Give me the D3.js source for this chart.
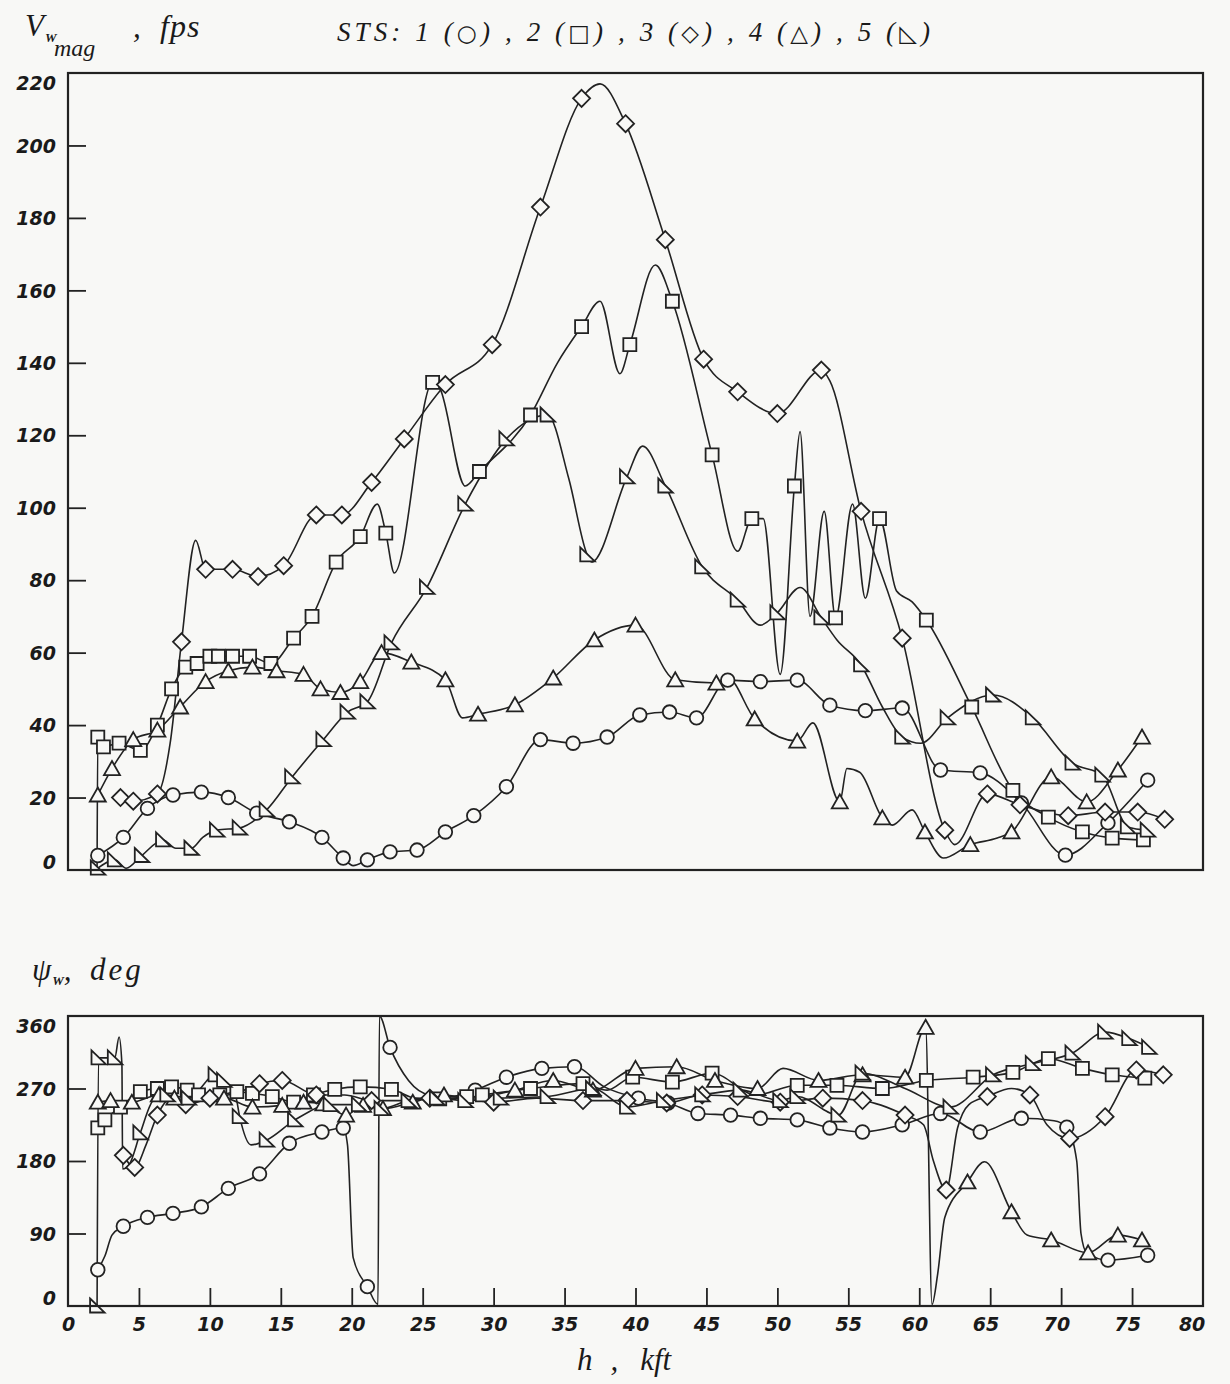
<!DOCTYPE html>
<html lang="en">
<head>
<meta charset="UTF-8">
<title>STS wind magnitude and direction</title>
<script src="https://d3js.org/d3.v7.min.js"></script>
<style>
  body { margin: 0; background: #f8f8f6; }
  .tick text { font: italic bold 19px "DejaVu Sans", sans-serif; fill: #1a1a1a; }
  .tick line { stroke: #222; stroke-width: 1.8px; }
  .title { font-family: "Liberation Serif", serif; font-style: italic; fill: #1a1a1a; }
  .frame { fill: none; stroke: #222; stroke-width: 2.2px; }
  .curve { fill: none; stroke: #222; stroke-width: 1.6px; }
  .mark { fill: #f8f8f6; stroke: #222; stroke-width: 1.8px; }
</style>
</head>
<body>
<script>
// h (kft), value, 1 = symbol drawn at this point
var magSts1 = [[2.1,4,1],[3.9,9,1],[5.6,17,1],[7.4,20.7,1],[9.4,21.5,1],[11.3,20,1],[13.3,15.7,1],[15.6,13.3,1],[17.9,9,1],[19.4,3.3,1],[20.1,1.2,0],[21.1,2.8,1],[22.7,5,1],[24.6,5.5,1],[26.6,10.5,1],[28.6,15,1],[30.9,23,1],[33.3,36,1],[35.6,35,1],[38.0,36.7,1],[40.3,42.8,1],[42.4,43.6,1],[44.3,42,1],[46.5,52.4,1],[48.8,52,1],[51.4,52.4,1],[53.7,45.5,1],[56.2,44,1],[58.8,44.7,1],[61.5,27.6,1],[64.3,26.8,1],[67.2,18.5,1],[70.3,4.1,1],[73.3,13,1],[76.1,24.8,1]];
var magSts2 = [[2.05,1,0],[2.1,36.7,1],[2.5,34,1],[3.6,35,1],[5.1,33,1],[6.3,40,1],[7.3,50,1],[8.3,56,1],[9.1,57,1],[10.0,59,1],[10.6,59,1],[11.6,59,1],[12.8,59,1],[14.3,57,1],[15.9,64,1],[17.2,70,1],[18.9,85,1],[20.6,92,1],[21.8,101,0],[22.4,93,1],[23.0,82,0],[25.7,134.6,1],[26.2,133,0],[28.0,106,0],[29.0,110,1],[32.6,125.6,1],[34.5,140,0],[36.2,150,1],[37.5,157,0],[38.9,137,0],[39.6,145,1],[41.4,167,0],[42.6,157,1],[45.4,114.6,1],[47.2,88,0],[48.2,97,1],[49.0,97,0],[50.2,54,0],[51.2,106,1],[51.6,121,0],[52.3,70,0],[53.3,99,0],[54.1,69.6,1],[55.3,101,0],[56.2,75,0],[57.2,97,1],[58.4,77,0],[59.5,74,0],[60.5,69,1],[63.7,45,1],[66.6,22,1],[69.1,14.6,1],[71.5,10.5,1],[73.6,8.8,1],[75.8,8.3,1]];
var magSts3 = [[3.7,20,1],[4.6,19,1],[6.3,21,1],[7.2,35,0],[8.0,63,1],[9.0,91,0],[9.7,83,1],[11.6,83,1],[13.4,81,1],[15.2,84,1],[17.5,98,1],[19.3,98,1],[21.4,107,1],[23.7,119,1],[26.6,134,1],[29.9,145,1],[33.3,183,1],[36.2,213,1],[37.5,217,0],[39.3,206,1],[42.1,174,1],[44.8,141,1],[47.2,132,1],[50.0,126,1],[53.1,138,1],[53.7,135,0],[55.9,99,1],[58.8,64,1],[61.8,11,1],[62.5,7,0],[64.8,21,1],[67.1,18,1],[70.5,15,1],[73.1,16,1],[75.4,16,1],[77.3,14,1]];
var magSts4 = [[2.1,20.7,1],[3.1,28,1],[4.6,36,1],[6.3,38.6,1],[7.9,45,1],[9.7,52,1],[11.3,55,1],[13.0,56,1],[14.7,55,1],[16.6,54,1],[17.8,50,1],[19.2,49,1],[20.6,52,1],[22.1,60,1],[24.2,57.4,1],[26.6,52.5,1],[27.8,42,0],[28.9,43,1],[31.5,45.6,1],[34.2,53,1],[37.1,63.5,1],[40.0,67.6,1],[42.8,52.5,1],[45.7,51.6,1],[46.5,53,0],[48.4,41.7,1],[51.4,35.6,1],[52.5,40.6,0],[54.4,18.8,1],[54.9,28,0],[55.8,27,0],[57.4,14.4,1],[58.1,12.4,0],[59.5,16.6,0],[60.4,10.5,1],[61.7,3.3,0],[63.6,7,1],[65.5,8.8,0],[66.5,10.5,1],[69.3,25.7,1],[71.8,18.8,1],[74.0,27.6,1],[75.7,36.7,1]];
var magSts5 = [[2.1,0.5,1],[3.3,2.8,1],[4.1,0.5,0],[5.2,4,1],[6.7,8.3,1],[7.6,6,0],[8.7,6,1],[9.5,9,0],[10.5,11,1],[12.1,11.6,1],[14.0,16.6,1],[15.8,25.7,1],[18.0,36,1],[19.7,43.6,1],[21.1,46.4,1],[22.8,62.7,1],[25.3,78,1],[28.0,101,1],[30.9,119,1],[33.8,125.6,1],[35.3,108,0],[36.6,87,1],[36.9,85,0],[39.4,108.5,1],[40.5,117,0],[42.1,106,1],[44.7,83.7,1],[47.2,74.5,1],[48.8,67.6,0],[50.0,71,1],[51.6,78,0],[53.1,69.6,1],[54.2,63.5,0],[55.9,56.6,1],[57.4,45,0],[58.8,36.7,1],[60.1,35,0],[62.0,42,1],[65.2,48.3,1],[68.0,42,1],[70.8,29.5,1],[72.9,26.2,1],[74.7,11.9,1],[76.1,11,1]];

var psiSts1 = [[2.1,45,1],[2.6,62,0],[3.1,88,0],[3.9,99,1],[5.6,110,1],[7.4,115,1],[9.4,123,1],[11.3,146,1],[13.5,164,1],[15.6,202,1],[17.9,216,1],[19.4,221,1],[19.7,200,0],[20.1,60,0],[21.1,24,1],[21.85,2,0],[21.95,360,0],[22.7,321,1],[24.0,280,0],[25.5,262,0],[27.0,260,0],[28.7,268,1],[30.9,284,1],[33.4,295,1],[35.7,297,1],[37.8,272,0],[40.2,258,1],[42.3,252,1],[44.4,239,1],[46.7,237,1],[48.8,233,1],[51.4,231,1],[53.7,221,1],[56.0,216,1],[58.8,225,1],[61.5,239,1],[64.3,216,1],[67.2,233,1],[69.5,230,0],[70.4,222,1],[71.1,180,0],[71.4,90,0],[71.8,66,0],[73.3,57,1],[76.1,63,1]];
var psiSts2 = [[2.1,221,1],[2.6,231,1],[3.7,247,1],[5.1,266,1],[6.3,270,1],[7.3,272,1],[8.4,268,1],[9.2,262,1],[10.7,262,1],[11.9,266,1],[13.0,264,1],[14.4,260,1],[15.9,253,1],[17.3,262,1],[18.8,269,1],[20.6,272,1],[22.8,269,1],[24.5,258,0],[26.2,257,1],[28.1,260,1],[29.2,262,1],[32.6,270,1],[36.3,276,1],[38.0,268,0],[39.8,284,1],[42.6,278,1],[45.4,289,1],[48.5,262,0],[51.4,274,1],[54.2,274,1],[57.4,270,1],[60.5,280,1],[63.8,284,1],[66.6,290,1],[69.1,307,1],[71.5,295,1],[73.6,287,1],[75.9,283,1]];
var psiSts3 = [[3.9,187,1],[4.7,172,1],[5.5,200,0],[6.3,237,1],[7.3,258,0],[8.3,250,1],[10.0,258,1],[12.0,265,0],[13.5,276,1],[15.1,280,1],[17.5,262,1],[19.5,262,0],[21.4,255,1],[23.5,255,0],[25.5,258,1],[27.5,258,0],[30.0,253,1],[33.0,258,0],[36.3,255,1],[39.4,255,1],[42.2,252,1],[44.7,262,1],[47.2,260,1],[50.2,253,1],[53.2,258,1],[56.0,255,1],[59.0,237,1],[60.3,225,0],[61.0,180,0],[61.9,144,1],[62.7,221,0],[63.5,250,0],[64.8,260,1],[66.5,270,0],[67.8,262,1],[69.0,225,0],[70.6,208,1],[73.1,235,1],[75.3,293,1],[77.2,287,1]];
var psiSts4 = [[2.1,253,1],[3.0,255,1],[4.5,253,1],[6.4,262,1],[7.5,258,1],[9.0,255,0],[11.0,258,1],[13.0,247,1],[15.1,249,1],[16.6,253,1],[18.0,251,1],[19.6,237,1],[20.8,249,1],[22.2,245,1],[24.3,253,1],[26.5,262,1],[28.5,258,0],[31.5,268,1],[34.2,280,1],[37.0,268,1],[40.0,295,1],[42.9,297,1],[45.6,280,1],[48.6,270,1],[50.4,295,0],[52.9,280,1],[56.0,287,1],[59.0,284,1],[60.45,346,1],[60.9,2,0],[61.3,40,0],[61.8,110,0],[63.4,154,1],[64.6,179,0],[66.5,117,1],[67.6,88,0],[69.3,82,1],[71.9,66,1],[74.0,88,1],[75.7,82,1]];
var psiSts5 = [[2.05,0,1],[2.15,308,1],[3.3,308,1],[3.6,334,0],[3.8,300,0],[3.85,170,0],[4.3,175,0],[5.1,215,1],[6.0,255,0],[7.0,262,1],[8.5,258,1],[10.4,287,1],[11.0,280,1],[11.8,262,0],[12.1,235,1],[12.9,200,0],[14.0,206,1],[16.0,231,1],[18.5,250,1],[20.5,250,1],[22.1,245,1],[24.0,255,1],[26.0,258,1],[28.0,255,1],[30.5,258,1],[33.8,260,1],[37.0,270,1],[39.4,247,1],[42.0,255,1],[44.7,262,1],[47.4,268,1],[50.2,255,1],[51.4,260,1],[54.3,237,1],[56.0,289,1],[59.0,270,0],[62.2,247,1],[65.2,287,1],[68.0,301,1],[70.8,314,1],[73.1,340,1],[74.8,332,1],[76.2,321,1]];

var magSeries = [magSts1, magSts2, magSts3, magSts4, magSts5];
var psiSeries = [psiSts1, psiSts2, psiSts3, psiSts4, psiSts5];
var symbolKinds = ["circle", "square", "diamond", "triangle", "rtriangle"];

var hTicks = d3.range(0, 81, 5);
var magTicks = d3.range(0, 221, 20);
var psiTicks = [0, 90, 180, 270, 360];

var width = 1230, height = 1384;

var svg = d3.select("body").append("svg")
    .attr("width", width)
    .attr("height", height);

var x = d3.scaleLinear().domain([0, 80]).range([68, 1203]);
var yMag = d3.scaleLinear().domain([0, 220]).range([870, 73]);
var yPsi = d3.scaleLinear().domain([0, 360]).range([1306, 1016]);

function symbolPath(kind) {
    switch (kind) {
        case "circle": return "M6.8,0A6.8,6.8 0 1,1 -6.8,0A6.8,6.8 0 1,1 6.8,0Z";
        case "square": return "M-6.5,-6.5H6.5V6.5H-6.5Z";
        case "diamond": return "M0,-8.5L8.5,0L0,8.5L-8.5,0Z";
        case "triangle": return "M0,-7.5L8,6.5H-8Z";
        default: return "M-7,-7.5L7.5,6.5H-7Z";
    }
}

function drawPanel(series, y, ticks) {
    var line = d3.line()
        .x(d => x(d[0]))
        .y(d => y(d[1]))
        .curve(d3.curveMonotoneX);

    var yAxis = svg.append("g")
        .attr("transform", "translate(68,0)")
        .call(d3.axisLeft(y).tickValues(ticks).tickSize(-18).tickPadding(12));
    yAxis.select(".domain").remove();
    yAxis.selectAll(".tick line").filter(d => d === ticks[0] || d === ticks[ticks.length - 1]).remove();
    yAxis.selectAll(".tick text").attr("font-family", null).attr("font-size", null)
        .attr("dy", d => d === ticks[0] ? "-0.1em" : (d === ticks[ticks.length - 1] ? "0.85em" : "0.35em"));

    series.forEach(function(s) {
        svg.append("path")
            .datum(s)
            .attr("class", "curve")
            .attr("d", line);
    });

    series.forEach(function(s, i) {
        svg.selectAll(null)
            .data(s.filter(d => d[2] === 1))
            .enter().append("path")
            .attr("class", "mark")
            .attr("transform", d => `translate(${x(d[0])},${y(d[1])})`)
            .attr("d", symbolPath(symbolKinds[i]));
    });

    svg.append("rect")
        .attr("class", "frame")
        .attr("x", x.range()[0])
        .attr("y", y.range()[1])
        .attr("width", x.range()[1] - x.range()[0])
        .attr("height", y.range()[0] - y.range()[1]);
}

drawPanel(magSeries, yMag, magTicks);
drawPanel(psiSeries, yPsi, psiTicks);

// x axis on the lower panel only
var xAxis = svg.append("g")
    .attr("transform", "translate(0,1306)")
    .call(d3.axisBottom(x).tickValues(hTicks).tickSize(-18).tickPadding(12));
xAxis.select(".domain").remove();
xAxis.selectAll(".tick line").filter(d => d === 0 || d === 80).remove();
xAxis.selectAll(".tick text").attr("font-family", null).attr("font-size", null)
    .attr("dx", d => d === 80 ? "-0.6em" : (d >= 60 ? "-0.25em" : 0));

// titles
svg.append("text").attr("class", "title").attr("x", 25).attr("y", 36).attr("font-size", 31).text("V");
svg.append("text").attr("class", "title").attr("x", 45).attr("y", 42).attr("font-size", 13)
    .attr("font-weight", "bold").text("W");
svg.append("text").attr("class", "title").attr("x", 54).attr("y", 56).attr("font-size", 24).text("mag");
svg.append("text").attr("class", "title").attr("x", 133).attr("y", 37).attr("font-size", 31).text(",");
svg.append("text").attr("class", "title").attr("x", 160).attr("y", 37).attr("font-size", 32)
    .attr("letter-spacing", 1).text("fps");

var legend = svg.append("text").attr("class", "title")
    .attr("x", 337).attr("y", 41).attr("font-size", 27)
    .attr("textLength", 593).attr("lengthAdjust", "spacing");
var legendParts = [["STS: 1 (", "○"], [") , 2 (", "□"], [") , 3 (", "◇"], [") , 4 (", "△"], [") , 5 (", "◺"], [")", ""]];
legendParts.forEach(function(p) {
    legend.append("tspan").text(p[0]);
    if (p[1]) legend.append("tspan").attr("font-family", "DejaVu Sans").attr("font-style", "normal").attr("font-size", 23).text(p[1]);
});

var t2 = svg.append("text").attr("class", "title").attr("x", 32).attr("y", 980);
t2.append("tspan").attr("font-size", 31).text("ψ");
t2.append("tspan").attr("font-size", 13).attr("font-weight", "bold").attr("dx", 1).attr("dy", 5).text("W");
t2.append("tspan").attr("font-size", 31).attr("dy", -5).text(",");
svg.append("text").attr("class", "title").attr("x", 90).attr("y", 980).attr("font-size", 31)
    .attr("letter-spacing", 3).text("deg");

var t3 = svg.append("text").attr("class", "title").attr("x", 577).attr("y", 1370).attr("font-size", 31);
t3.append("tspan").text("h");
t3.append("tspan").attr("dx", 18).text(",");
t3.append("tspan").attr("dx", 22).text("kft");
</script>
</body>
</html>
